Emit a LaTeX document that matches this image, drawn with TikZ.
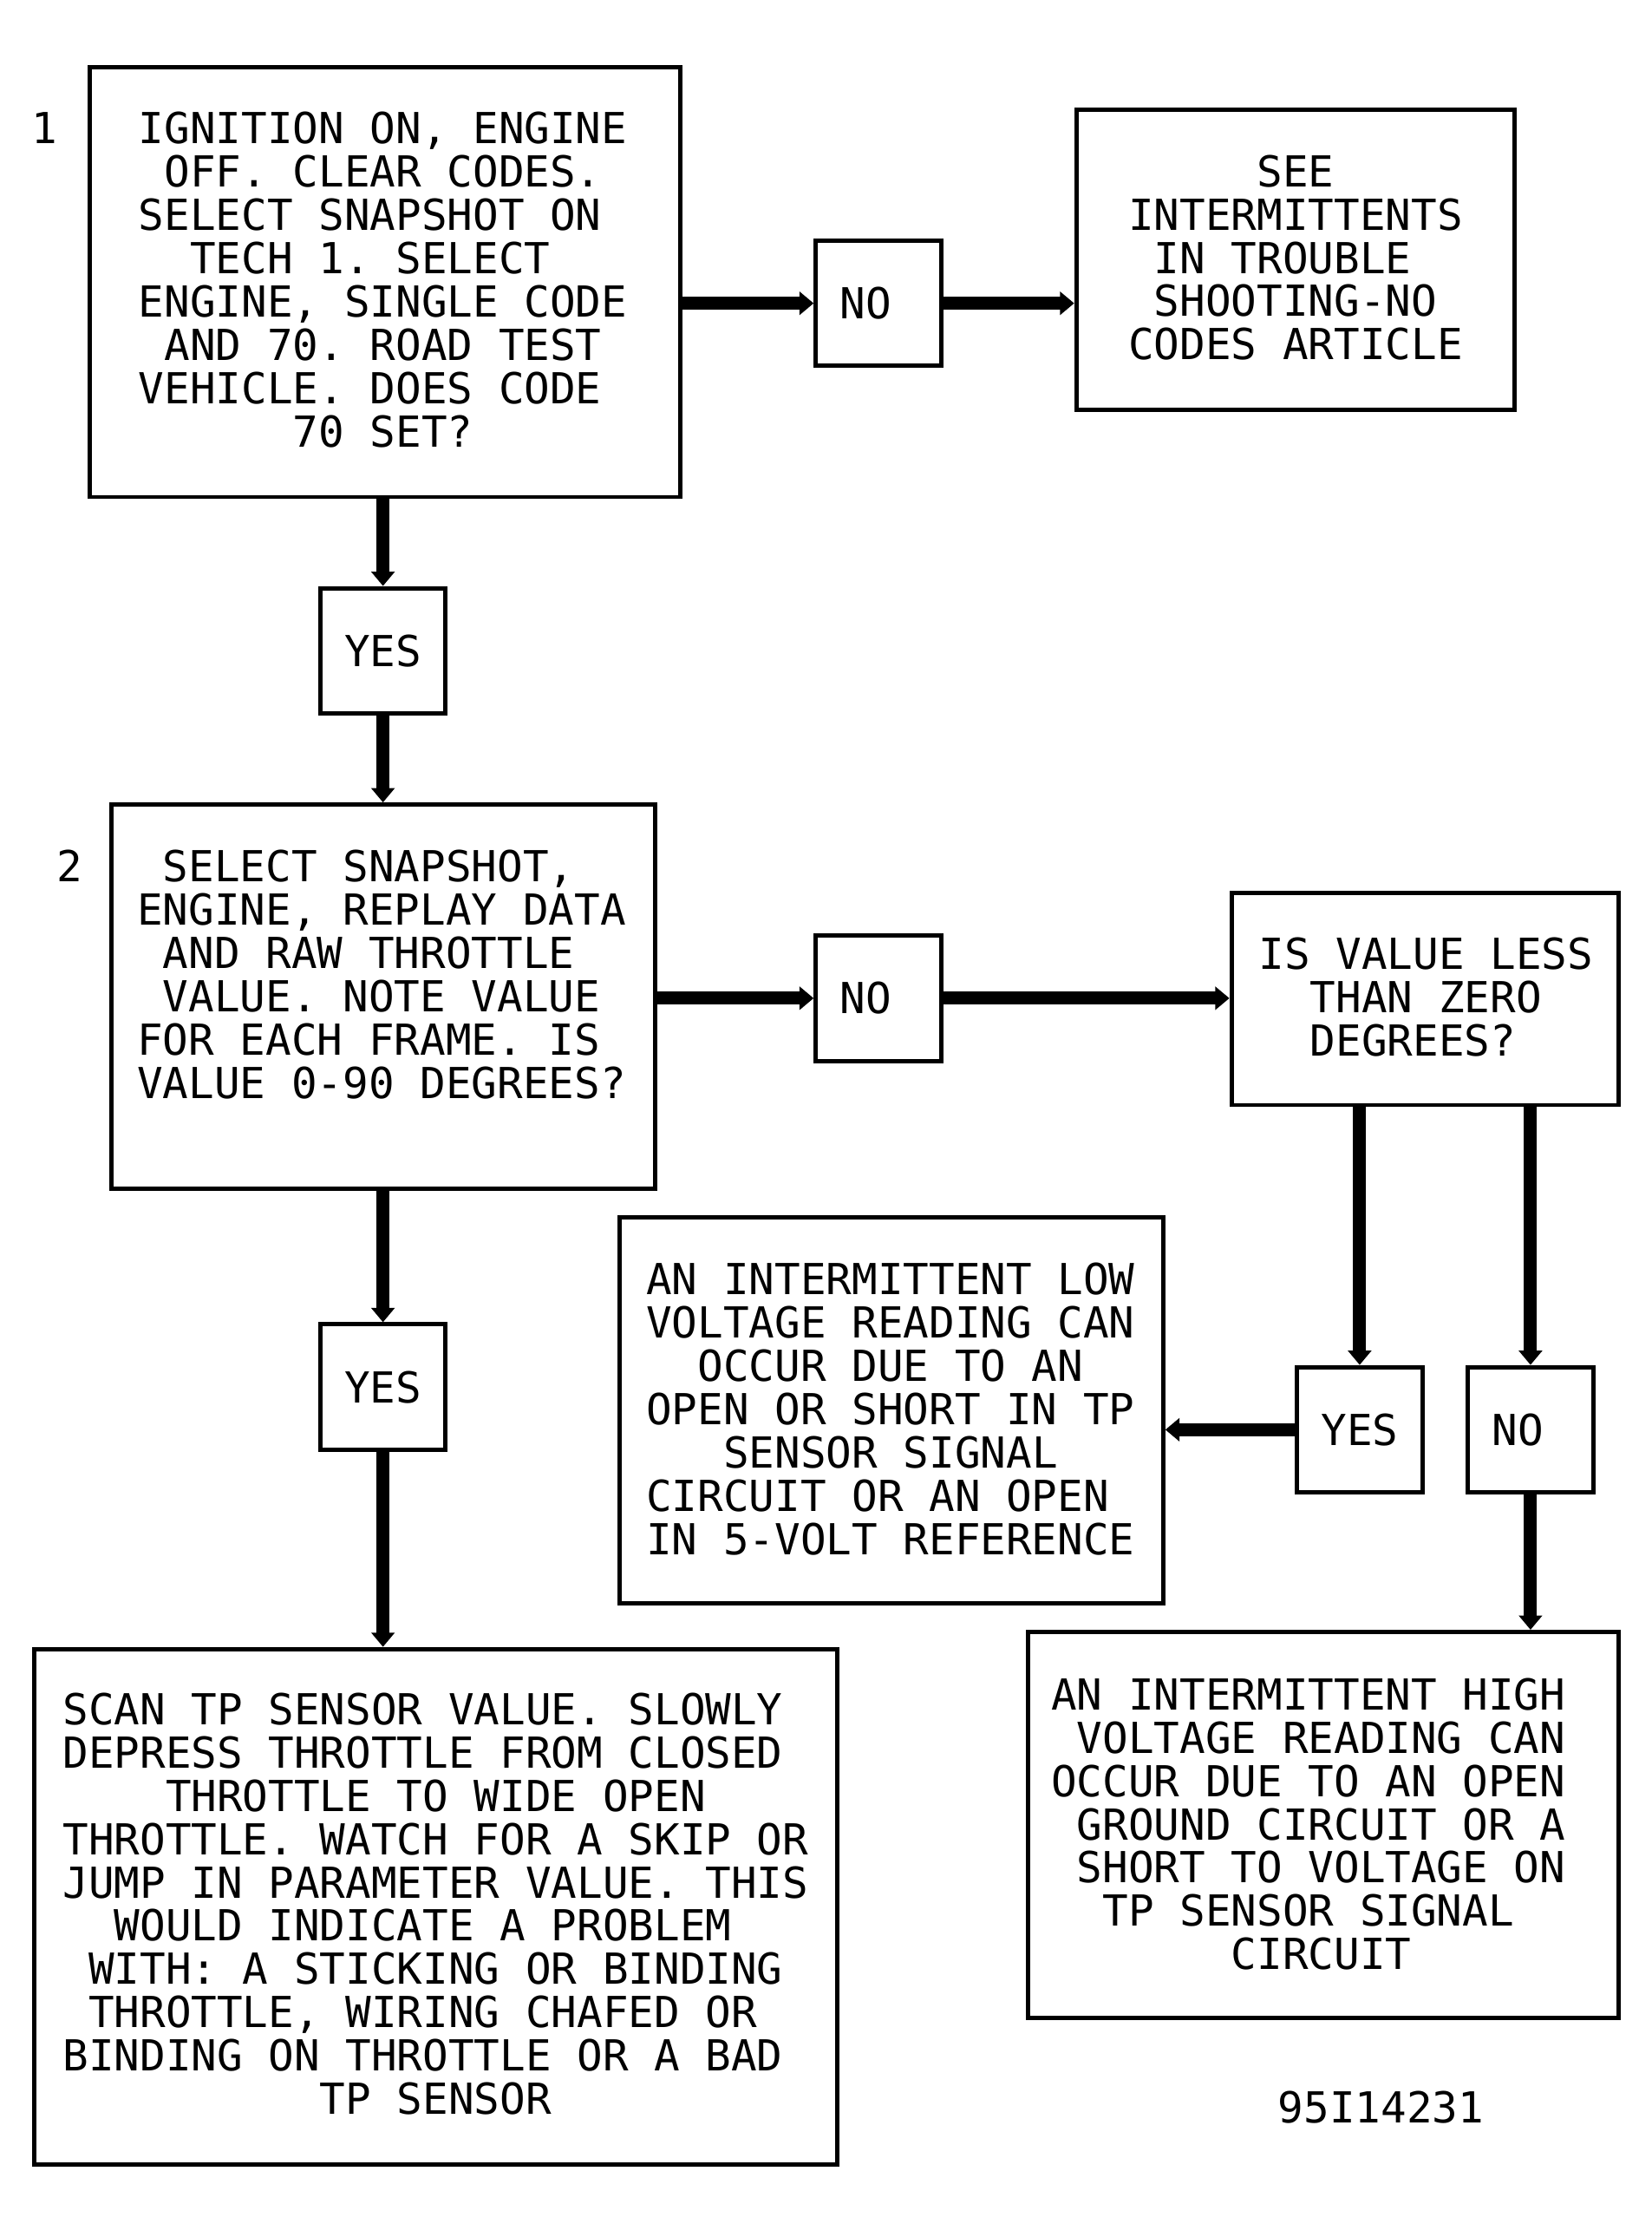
\documentclass[tikz,border=0pt]{standalone}
\usepackage{fontspec}
\newfontfamily\plotfont{DejaVu Sans Mono}
\usetikzlibrary{arrows.meta, fit}
\frenchspacing

\newcommand{\padch}{\phantom{X}}

\tikzset{
  box/.style={draw, line width=1.5pt, inner sep=0pt},
  txt/.style={font=\plotfont\fontsize{15}{15.2}\selectfont, align=center, inner sep=0pt},
  answer/.style={box, txt, minimum width=44pt, minimum height=44pt},
  flow/.style={line width=4.6pt, -{Triangle[width=8pt,length=5pt]}},
}

\begin{document}
\begin{tikzpicture}[x=0.5pt, y=-0.5pt]
\useasboundingbox (0,0) rectangle (1160,1566);

% Step 1
\node[txt] (num1) at (31,90) {1};
\node[box, fit={(63,47) (478,349)}] (step1) {};
\node[txt] (step1txt) at (269,196.5) {IGNITION ON, ENGINE\\OFF. CLEAR CODES.\\SELECT SNAPSHOT ON\padch\\TECH 1. SELECT\padch\\ENGINE, SINGLE CODE\\AND 70. ROAD TEST\\VEHICLE. DOES CODE\padch\\70 SET?};
\node[answer] (no1) at (617,213) {NO\padch};
\node[box, fit={(756,77) (1064,288)}] (see) {};
\node[txt] (seetxt) at (910,181) {SEE\\INTERMITTENTS\\IN TROUBLE\padch\\SHOOTING-NO\\CODES ARTICLE};
\node[answer] (yes1) at (269,457) {YES};

\draw[flow] (no1.west -| step1.east) -- (no1.west);
\draw[flow] (no1.east) -- (no1.east -| see.west);
\draw[flow] (yes1.north |- step1.south) -- (yes1.north);

% Step 2
\node[txt] (num2) at (49,608) {2};
\node[box, fit={(78,565) (460,835)}] (step2) {};
\node[txt] (step2txt) at (268,684.5) {SELECT SNAPSHOT,\padch\\ENGINE, REPLAY DATA\\AND RAW THROTTLE\padch\\VALUE. NOTE VALUE\\FOR EACH FRAME. IS\padch\\VALUE 0-90 DEGREES?};
\node[answer] (no2) at (617,701) {NO\padch};
\node[box, fit={(865,627) (1137,776)}] (less) {};
\node[txt] (lesstxt) at (1001.5,700) {IS VALUE LESS\\THAN ZERO\\DEGREES?\padch};
\node[answer] (yes2) at (269,974) {YES};
\node[answer] (yes3) at (955,1004) {YES};
\node[answer] (no3) at (1075,1004) {NO\padch};

\draw[flow] (yes1.south) -- (yes1.south |- step2.north);
\draw[flow] (no2.west -| step2.east) -- (no2.west);
\draw[flow] (no2.east) -- (no2.east -| less.west);
\draw[flow] (yes2.north |- step2.south) -- (yes2.north);
\draw[flow] (yes3.north |- less.south) -- (yes3.north);
\draw[flow] (no3.north |- less.south) -- (no3.north);

% Results
\node[box, fit={(435,855) (817,1126)}] (low) {};
\node[txt] (lowtxt) at (625.5,989.5) {AN INTERMITTENT LOW\\VOLTAGE READING CAN\\OCCUR DUE TO AN\\OPEN OR SHORT IN TP\\SENSOR SIGNAL\\CIRCUIT OR AN OPEN\padch\\IN 5-VOLT REFERENCE};
\node[box, fit={(24,1158) (588,1520)}] (scan) {};
\node[txt] (scantxt) at (306,1337) {SCAN TP SENSOR VALUE. SLOWLY\padch\\DEPRESS THROTTLE FROM CLOSED\padch\\THROTTLE TO WIDE OPEN\\THROTTLE. WATCH FOR A SKIP OR\\JUMP IN PARAMETER VALUE. THIS\\WOULD INDICATE A PROBLEM\padch\\WITH: A STICKING OR BINDING\\THROTTLE, WIRING CHAFED OR\padch\\BINDING ON THROTTLE OR A BAD\padch\\TP SENSOR};
\node[box, fit={(722,1146) (1137,1417)}] (high) {};
\node[txt] (hightxt) at (928,1281) {AN INTERMITTENT HIGH\padch\\VOLTAGE READING CAN\\OCCUR DUE TO AN OPEN\padch\\GROUND CIRCUIT OR A\\SHORT TO VOLTAGE ON\\TP SENSOR SIGNAL\padch\\CIRCUIT};
\node[txt] (figid) at (970,1480) {95I14231};

\draw[flow] (yes3.west) -- (yes3.west -| low.east);
\draw[flow] (yes2.south) -- (yes2.south |- scan.north);
\draw[flow] (no3.south) -- (no3.south |- high.north);
\end{tikzpicture}
\end{document}
